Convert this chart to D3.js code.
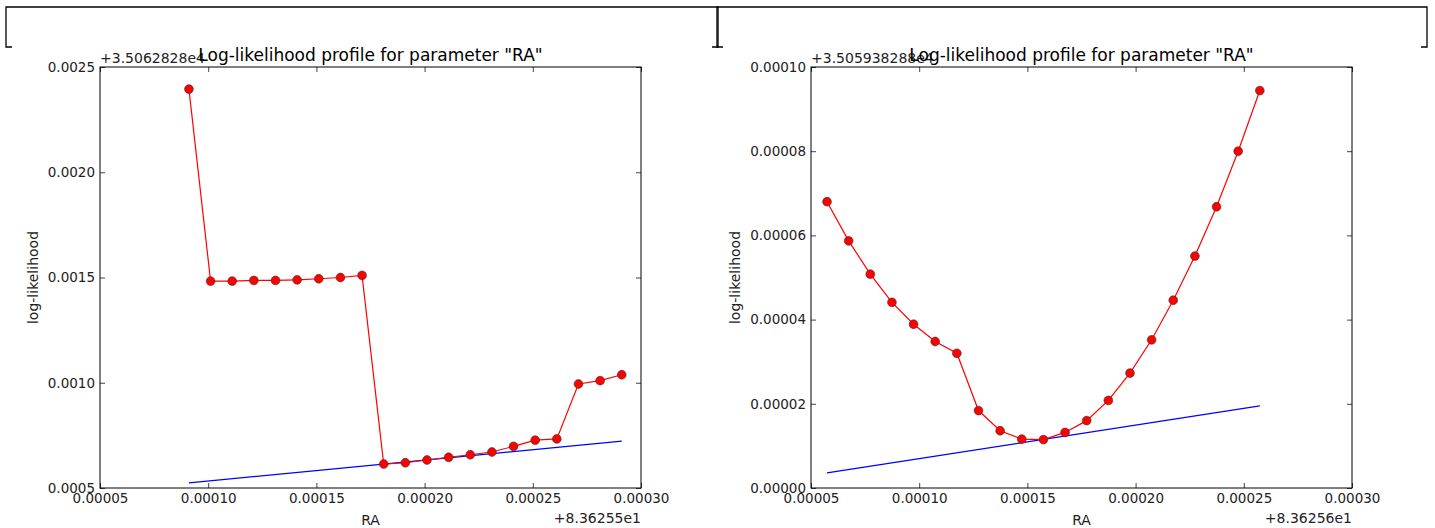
<!DOCTYPE html>
<html>
<head>
<meta charset="utf-8">
<script src="https://cdn.jsdelivr.net/npm/d3@7"></script>
<style>
  body { margin: 0; background: #fff; }
  svg { display: block; font-family: "DejaVu Sans", sans-serif; }
</style>
</head>
<body>
<script>
// profile samples, stored as offsets from the values printed in the corners
const leftRA = [0.0000911, 0.0001011, 0.0001111, 0.0001211, 0.0001311, 0.0001411, 0.0001511,
                0.0001611, 0.0001711, 0.0001811, 0.0001911, 0.0002011, 0.0002111, 0.0002211,
                0.0002311, 0.0002411, 0.0002511, 0.0002611, 0.0002711, 0.0002811, 0.0002911];
const leftLL = [0.002395, 0.001483, 0.001483, 0.001486, 0.001486, 0.001489, 0.001494,
                0.001500, 0.001510, 0.000614, 0.000620, 0.000633, 0.000646, 0.000658,
                0.000671, 0.000698, 0.000727, 0.000733, 0.000994, 0.001010, 0.001038];
const leftTanRA = [0.0000911, 0.0002911];
const leftTanLL = [0.000524, 0.000723];

const rightRA = [0.0000574, 0.0000674, 0.0000774, 0.0000874, 0.0000974, 0.0001074, 0.0001174,
                 0.0001274, 0.0001374, 0.0001474, 0.0001574, 0.0001674, 0.0001774, 0.0001874,
                 0.0001974, 0.0002074, 0.0002174, 0.0002274, 0.0002374, 0.0002474, 0.0002574];
const rightLL = [0.0000680, 0.0000587, 0.0000508, 0.0000441, 0.0000389, 0.0000348, 0.0000320,
                 0.0000184, 0.0000136, 0.0000116, 0.0000115, 0.0000132, 0.0000160, 0.0000208,
                 0.0000273, 0.0000352, 0.0000446, 0.0000551, 0.0000668, 0.0000800, 0.0000944];
const rightTanRA = [0.0000574, 0.0002574];
const rightTanLL = [0.0000036, 0.0000195];

const xTicks = [0.00005, 0.00010, 0.00015, 0.00020, 0.00025, 0.00030];
const leftYTicks = [0.0005, 0.0010, 0.0015, 0.0020, 0.0025];
const rightYTicks = [0.00000, 0.00002, 0.00004, 0.00006, 0.00008, 0.00010];

const title = 'Log-likelihood profile for parameter "RA"';

const svg = d3.select("body").append("svg")
  .attr("width", 1435)
  .attr("height", 528);

// the two cut-off frames along the top edge
drawBracket(6, 718);
drawBracket(717, 1427);

drawPanel({
  left: 100, top: 67, width: 541, height: 421, yLabelX: 33,
  ra: leftRA, ll: leftLL, tanRA: leftTanRA, tanLL: leftTanLL,
  yDomain: [0.0005, 0.0025], yTicks: leftYTicks, yFormat: ".4f",
  yOffset: "+3.5062828e4", xOffset: "+8.36255e1"
});

drawPanel({
  left: 811, top: 67, width: 541, height: 421, yLabelX: 735,
  ra: rightRA, ll: rightLL, tanRA: rightTanRA, tanLL: rightTanLL,
  yDomain: [0, 0.0001], yTicks: rightYTicks, yFormat: ".5f",
  yOffset: "+3.505938288e4", xOffset: "+8.36256e1"
});

function drawBracket(x0, x1) {
  svg.append("path")
    .attr("d", `M${x0 + 6},47 H${x0} V7 H${x1} V47 H${x1 - 6}`)
    .attr("fill", "none")
    .attr("stroke", "#000")
    .attr("stroke-width", 1.3);
}

function drawPanel(cfg) {
  const g = svg.append("g").attr("transform", `translate(${cfg.left},${cfg.top})`);
  const w = cfg.width, h = cfg.height;

  const x = d3.scaleLinear().domain([0.00005, 0.0003]).range([0, w]);
  const y = d3.scaleLinear().domain(cfg.yDomain).range([h, 0]);

  // axes with inward ticks on all four sides
  g.append("g").attr("transform", `translate(0,${h})`)
    .call(d3.axisBottom(x).tickValues(xTicks).tickFormat(d3.format(".5f"))
      .tickSizeInner(-5).tickSizeOuter(0).tickPadding(5));
  g.append("g")
    .call(d3.axisLeft(y).tickValues(cfg.yTicks).tickFormat(d3.format(cfg.yFormat))
      .tickSizeInner(-5).tickSizeOuter(0).tickPadding(5));
  g.append("g")
    .call(d3.axisTop(x).tickValues(xTicks).tickFormat("").tickSizeInner(-5).tickSizeOuter(0));
  g.append("g").attr("transform", `translate(${w},0)`)
    .call(d3.axisRight(y).tickValues(cfg.yTicks).tickFormat("").tickSizeInner(-5).tickSizeOuter(0));

  g.selectAll(".domain").remove();
  g.selectAll(".tick line").attr("stroke", "#444");
  g.selectAll(".tick text")
    .attr("font-family", "DejaVu Sans")
    .attr("font-size", 13.5)
    .attr("fill", "#222");

  // tangent line
  const line = d3.line().x(d => x(d[0])).y(d => y(d[1]));
  g.append("path")
    .datum(d3.zip(cfg.tanRA, cfg.tanLL))
    .attr("d", line)
    .attr("fill", "none")
    .attr("stroke", "#0000ff")
    .attr("stroke-width", 1.2);

  // profile line + markers
  const pts = d3.zip(cfg.ra, cfg.ll);
  g.append("path")
    .datum(pts)
    .attr("d", line)
    .attr("fill", "none")
    .attr("stroke", "#ff0000")
    .attr("stroke-width", 1.2);

  g.selectAll("circle.pt")
    .data(pts)
    .enter()
      .append("circle")
        .attr("class", "pt")
        .attr("cx", d => x(d[0]))
        .attr("cy", d => y(d[1]))
        .attr("r", 4.4)
        .attr("fill", "#ff0000")
        .attr("stroke", "#333")
        .attr("stroke-width", 0.6);

  // frame
  g.append("rect")
    .attr("width", w).attr("height", h)
    .attr("fill", "none")
    .attr("stroke", "#000")
    .attr("stroke-width", 1);

  // offset labels
  g.append("text")
    .attr("x", 0).attr("y", -4)
    .attr("font-size", 14).attr("fill", "#222")
    .text(cfg.yOffset);
  g.append("text")
    .attr("x", w).attr("y", h + 35)
    .attr("text-anchor", "end")
    .attr("font-size", 14).attr("fill", "#222")
    .text(cfg.xOffset);

  // title and axis labels
  g.append("text")
    .attr("x", w / 2).attr("y", -6)
    .attr("text-anchor", "middle")
    .attr("font-size", 17).attr("fill", "#000")
    .text(title);
  g.append("text")
    .attr("x", w / 2).attr("y", h + 37)
    .attr("text-anchor", "middle")
    .attr("font-size", 14).attr("fill", "#222")
    .text("RA");
  g.append("text")
    .attr("transform", `translate(${cfg.yLabelX - cfg.left},${h / 2}) rotate(-90)`)
    .attr("text-anchor", "middle")
    .attr("dy", "0.35em")
    .attr("font-size", 14).attr("fill", "#222")
    .text("log-likelihood");
}
</script>
</body>
</html>
